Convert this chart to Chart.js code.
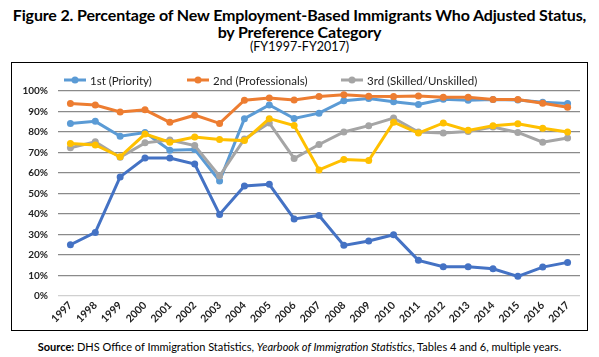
<!DOCTYPE html>
<html>
<head>
<meta charset="utf-8">
<script src="https://cdn.jsdelivr.net/npm/chart.js@4/dist/chart.umd.min.js"></script>
<style>
  html, body { margin: 0; padding: 0; background: #fff; }
  body { width: 599px; height: 357px; position: relative; overflow: hidden; font-family: Lato, "Liberation Sans", sans-serif; color: #000; }
  .t1 { position: absolute; left: 0; width: 599px; text-align: center; font-weight: 700; font-size: 16px; line-height: 16px; letter-spacing: -0.15px; }
  .t3 { position: absolute; left: 0; width: 599px; text-align: center; font-size: 12.5px; line-height: 14px; }
  #box { position: absolute; left: 11px; top: 62px; width: 575px; height: 267px; border: 1px solid #000; }
  #wrap { position: absolute; left: 0; top: 0; width: 575px; height: 267px; }
  .leg { position: absolute; top: 10px; font-size: 11.5px; color: #222; white-space: nowrap; display: flex; align-items: center; }
  .sw { display: inline-block; width: 22px; height: 14px; margin-right: 4px; }
  .src { position: absolute; left: 0; width: 599px; top: 340px; text-align: center; font-size: 11px; }
</style>
</head>
<body>
<div class="t1" style="top:7px">Figure 2. Percentage of New Employment-Based Immigrants Who Adjusted Status,</div>
<div class="t1" style="top:24px">by Preference Category</div>
<div class="t3" style="top:40px">(FY1997-FY2017)</div>
<div id="box">
  <div id="wrap"><canvas id="c"></canvas></div>
  <div id="legend"></div>
</div>
<div class="src"><b>Source:</b> DHS Office of Immigration Statistics, <i>Yearbook of Immigration Statistics</i>, Tables 4 and 6, multiple years.</div>
<script>
const years = ["1997","1998","1999","2000","2001","2002","2003","2004","2005","2006","2007","2008","2009","2010","2011","2012","2013","2014","2015","2016","2017"];
const yTicks = [0,10,20,30,40,50,60,70,80,90,100];
const seriesNames = ["1st (Priority)","2nd (Professionals)","3rd (Skilled/Unskilled)","4th (Special Immigrants)","5th (Investors)"];
const firstPriority   = [84.2,85.2,77.9,79.7,71.1,71.5,56.1,86.5,93.2,86.6,89.2,95.3,96.3,94.8,93.4,96.0,95.5,95.8,95.6,94.5,93.9];
const secondProf      = [93.9,93.2,89.8,90.8,84.7,88.2,84.2,95.5,96.6,95.6,97.3,98.2,97.4,97.3,97.6,96.9,96.9,95.8,95.8,94.0,92.1];
const thirdSkilled    = [72.3,75.2,67.7,74.7,76.1,73.4,58.5,76.6,84.4,67.1,73.9,80.0,83.1,86.8,80.0,79.5,80.2,82.4,79.8,75.0,77.1];
const fourthSpecial   = [74.4,73.7,67.9,79.0,75.0,77.6,76.3,75.8,86.5,83.2,61.5,66.6,66.1,84.8,79.5,84.4,80.8,83.1,84.0,81.8,80.0];
const fifthInvestors  = [25.0,31.0,58.1,67.3,67.3,64.4,39.8,53.7,54.5,37.6,39.3,24.7,26.8,29.9,17.4,14.3,14.3,13.3,9.6,14.1,16.4];
const colors = ["#5B9BD5","#ED7D31","#A5A5A5","#FFC000","#4472C4"];
const allSeries = [firstPriority, secondProf, thirdSkilled, fourthSpecial, fifthInvestors];
const legendShown = [0,1,2];
const legendX = [52, 175, 329];

// HTML legend (only first three entries are visible in the original)
const legendEl = document.getElementById('legend');
legendShown.forEach((i, k) => {
  const d = document.createElement('div');
  d.className = 'leg';
  d.style.left = legendX[k] + 'px';
  d.innerHTML = '<svg class="sw" viewBox="0 0 22 14"><line x1="0" y1="7" x2="22" y2="7" stroke="' + colors[i] + '" stroke-width="3"/><circle cx="11" cy="7" r="3.5" fill="' + colors[i] + '"/></svg>' + seriesNames[i];
  legendEl.appendChild(d);
});

const datasets = allSeries.map((arr, i) => ({
  label: seriesNames[i],
  data: arr,
  borderColor: colors[i],
  backgroundColor: colors[i],
  borderWidth: 3,
  pointRadius: 3.5,
  pointHoverRadius: 3.5,
  pointBorderWidth: 0,
  tension: 0,
  order: 5 - i
}));

new Chart(document.getElementById('c'), {
  type: 'line',
  data: { labels: years, datasets },
  options: {
    responsive: true,
    maintainAspectRatio: false,
    animation: false,
    layout: { padding: { top: 28, right: 7, left: 0, bottom: 0 } },
    plugins: { legend: { display: false }, tooltip: { enabled: false } },
    scales: {
      x: {
        offset: true,
        grid: { display: false, drawTicks: false },
        border: { display: false },
        ticks: { minRotation: 45, maxRotation: 45, padding: 3, color: '#222', font: { family: 'Lato', weight: 'bold', size: 10.5 } },
        afterFit: s => { s.height = 34; }
      },
      y: {
        min: 0, max: 100,
        afterBuildTicks: s => { s.ticks = yTicks.map(v => ({ value: v })); },
        grid: { drawTicks: false, lineWidth: 1.2, color: c => (c.tick && c.tick.value === 0) ? '#d0d0d0' : '#8a8a8a' },
        border: { display: false },
        ticks: { padding: 10, color: '#222', font: { family: 'Lato', weight: 'bold', size: 10 }, callback: v => v + '%' },
        afterFit: s => { s.width = 46; }
      }
    }
  }
});
</script>
</body>
</html>
